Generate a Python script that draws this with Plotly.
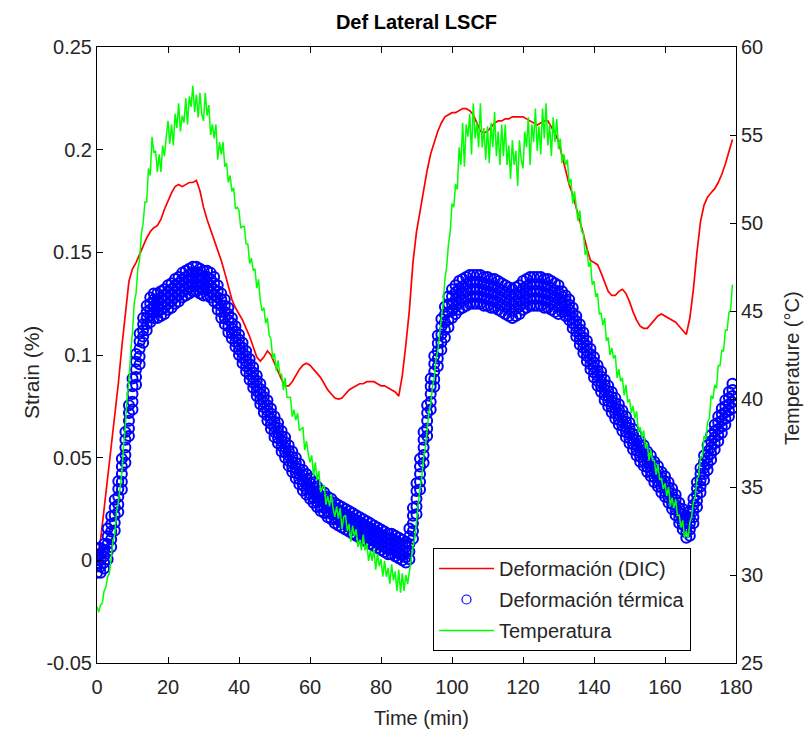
import plotly.graph_objects as go

# ---------------- data ----------------
time_min = list(range(180))          # minutes, 1-min grid for DIC and thermal strain

dic_strain = [
    0.000, 0.010, 0.025, 0.040, 0.055, 0.070, 0.086, 0.104, 0.120, 0.136,
    0.142, 0.145, 0.149, 0.153, 0.157, 0.160, 0.162, 0.163, 0.166, 0.171,
    0.175, 0.179, 0.182, 0.183, 0.182, 0.183, 0.184, 0.184, 0.185, 0.180,
    0.172, 0.166, 0.161, 0.157, 0.152, 0.146, 0.140, 0.133, 0.127, 0.123,
    0.120, 0.117, 0.113, 0.109, 0.104, 0.099, 0.097, 0.099, 0.102, 0.100,
    0.096, 0.092, 0.088, 0.085, 0.085, 0.087, 0.090, 0.093, 0.095, 0.096,
    0.095, 0.093, 0.091, 0.089, 0.086, 0.083, 0.081, 0.079, 0.0785, 0.079,
    0.081, 0.083, 0.084, 0.085, 0.086, 0.086, 0.087, 0.087, 0.087, 0.086,
    0.085, 0.085, 0.084, 0.083, 0.082, 0.080, 0.090, 0.105, 0.122, 0.145,
    0.160, 0.170, 0.181, 0.190, 0.198, 0.204, 0.209, 0.213, 0.216, 0.217,
    0.218, 0.218, 0.219, 0.220, 0.220, 0.219, 0.217, 0.213, 0.209, 0.208,
    0.209, 0.211, 0.213, 0.214, 0.214, 0.215, 0.215, 0.216, 0.216, 0.216,
    0.216, 0.215, 0.214, 0.213, 0.212, 0.213, 0.214, 0.214, 0.211, 0.208,
    0.204, 0.197, 0.189, 0.183, 0.178, 0.172, 0.166, 0.159, 0.152, 0.146,
    0.145, 0.144, 0.140, 0.135, 0.131, 0.129, 0.129, 0.131, 0.132, 0.130,
    0.126, 0.121, 0.117, 0.114, 0.113, 0.113, 0.115, 0.117, 0.119, 0.120,
    0.119, 0.118, 0.117, 0.116, 0.114, 0.112, 0.110, 0.118, 0.132, 0.150,
    0.165, 0.173, 0.177, 0.179, 0.181, 0.184, 0.188, 0.193, 0.199, 0.205,
]

# centre line of the blue band of circles
thermal_strain = [
    0.000, 0.000, 0.002, 0.008, 0.014, 0.022, 0.031, 0.042, 0.055, 0.068,
    0.081, 0.093, 0.103, 0.112, 0.118, 0.122, 0.124, 0.124, 0.125, 0.126,
    0.128, 0.129, 0.131, 0.132, 0.134, 0.135, 0.136, 0.137, 0.137, 0.136,
    0.135, 0.135, 0.134, 0.132, 0.128, 0.124, 0.121, 0.117, 0.113, 0.109,
    0.105, 0.101, 0.097, 0.093, 0.089, 0.085, 0.081, 0.077, 0.073, 0.069,
    0.065, 0.062, 0.058, 0.055, 0.051, 0.048, 0.045, 0.042, 0.039, 0.037,
    0.035, 0.033, 0.031, 0.029, 0.028, 0.026, 0.025, 0.023, 0.022, 0.021,
    0.020, 0.019, 0.018, 0.017, 0.016, 0.015, 0.014, 0.013, 0.012, 0.011,
    0.010, 0.009, 0.008, 0.008, 0.007, 0.006, 0.005, 0.004, 0.008, 0.018,
    0.030, 0.042, 0.055, 0.068, 0.081, 0.092, 0.102, 0.110, 0.116, 0.121,
    0.125, 0.127, 0.129, 0.130, 0.131, 0.132, 0.132, 0.132, 0.132, 0.131,
    0.131, 0.130, 0.130, 0.129, 0.128, 0.127, 0.126, 0.125, 0.126, 0.127,
    0.129, 0.130, 0.131, 0.131, 0.131, 0.131, 0.130, 0.130, 0.129, 0.128,
    0.127, 0.126, 0.124, 0.122, 0.118, 0.114, 0.110, 0.106, 0.102, 0.098,
    0.094, 0.090, 0.087, 0.083, 0.080, 0.077, 0.074, 0.071, 0.068, 0.065,
    0.062, 0.059, 0.056, 0.053, 0.051, 0.048, 0.046, 0.043, 0.041, 0.038,
    0.036, 0.033, 0.030, 0.027, 0.023, 0.020, 0.016, 0.018, 0.024, 0.032,
    0.039, 0.045, 0.050, 0.055, 0.060, 0.064, 0.068, 0.072, 0.076, 0.080,
]

# half-thickness of the scattered band of circles
thermal_spread = [
    0.006, 0.006, 0.006, 0.0075, 0.0075, 0.0075, 0.0075, 0.0075, 0.0075, 0.0075,
    0.0075, 0.0075, 0.0075, 0.006, 0.006, 0.006, 0.006, 0.006, 0.006, 0.006,
    0.006, 0.006, 0.006, 0.006, 0.006, 0.006, 0.006, 0.006, 0.006, 0.006,
    0.006, 0.006, 0.006, 0.006, 0.006, 0.006, 0.006, 0.006, 0.005, 0.005,
    0.005, 0.005, 0.005, 0.005, 0.005, 0.005, 0.005, 0.005, 0.005, 0.005,
    0.005, 0.005, 0.005, 0.005, 0.005, 0.005, 0.005, 0.005, 0.005, 0.005,
    0.005, 0.005, 0.005, 0.005, 0.005, 0.005, 0.005, 0.005, 0.005, 0.005,
    0.005, 0.005, 0.005, 0.005, 0.005, 0.005, 0.005, 0.005, 0.005, 0.005,
    0.005, 0.005, 0.005, 0.005, 0.005, 0.005, 0.005, 0.005, 0.0075, 0.0075,
    0.0075, 0.0075, 0.0075, 0.0075, 0.0075, 0.0075, 0.0075, 0.0075, 0.0075, 0.0075,
    0.007, 0.007, 0.007, 0.007, 0.007, 0.007, 0.007, 0.007, 0.007, 0.007,
    0.007, 0.007, 0.007, 0.007, 0.007, 0.007, 0.007, 0.007, 0.007, 0.007,
    0.007, 0.007, 0.007, 0.007, 0.007, 0.007, 0.007, 0.007, 0.007, 0.007,
    0.007, 0.005, 0.005, 0.005, 0.005, 0.005, 0.005, 0.005, 0.005, 0.005,
    0.005, 0.005, 0.005, 0.005, 0.005, 0.005, 0.005, 0.005, 0.005, 0.005,
    0.005, 0.005, 0.005, 0.005, 0.005, 0.005, 0.005, 0.005, 0.005, 0.005,
    0.005, 0.005, 0.005, 0.005, 0.005, 0.005, 0.005, 0.006, 0.006, 0.006,
    0.006, 0.006, 0.006, 0.006, 0.006, 0.006, 0.006, 0.006, 0.006, 0.006,
]

# temperature, sampled every 0.5 min (noisy thermocouple signal)
temp_time = [i * 0.5 for i in range(359)]
temperature = [
    28.2, 27.9, 28.3, 28.4, 29.1, 29.3, 29.9, 30.1, 31.0, 31.9, 32.3, 33.6, 34.1, 35.1, 35.8, 37.4, 38.5, 40.1, 41.0, 42.7,
    43.8, 45.5, 46.0, 47.4, 47.9, 49.4, 50.0, 51.2, 51.2, 53.1, 52.7, 54.9, 54.0, 54.1, 52.9, 53.9, 52.9, 54.4, 53.8, 54.9,
    55.8, 54.5, 55.6, 54.4, 56.2, 55.4, 56.8, 55.2, 56.1, 55.7, 57.1, 55.6, 57.2, 56.6, 57.8, 56.3, 57.3, 56.0, 57.4, 56.2,
    55.8, 57.4, 56.1, 56.7, 55.0, 55.6, 54.8, 55.6, 53.6, 54.6, 53.9, 54.6, 53.2, 53.4, 52.3, 52.7, 51.8, 52.0, 50.8, 50.9,
    50.7, 49.7, 49.8, 49.8, 48.8, 48.8, 47.7, 48.0, 47.3, 47.4, 46.3, 46.8, 45.6, 45.0, 45.2, 44.3, 44.6, 43.6, 43.4, 42.3,
    42.6, 41.6, 42.2, 41.4, 41.4, 40.5, 41.2, 40.1, 40.1, 40.1, 39.0, 39.4, 38.8, 39.2, 38.2, 38.3, 38.4, 37.1, 37.6, 36.9,
    36.4, 36.8, 35.6, 36.4, 35.4, 35.9, 34.7, 35.0, 35.1, 34.0, 34.5, 33.9, 34.6, 33.8, 33.3, 33.9, 33.2, 33.8, 32.6, 33.3,
    33.4, 32.5, 32.9, 31.9, 32.8, 32.2, 32.6, 31.6, 32.0, 31.4, 32.3, 31.4, 31.8, 30.8, 31.4, 30.8, 31.5, 30.3, 31.2, 30.5,
    30.9, 29.9, 30.8, 29.9, 30.4, 29.5, 30.6, 29.7, 30.2, 29.1, 30.3, 29.0, 30.1, 29.1, 30.0, 29.5, 30.2, 31.0, 31.6, 32.1,
    33.1, 33.8, 35.0, 35.6, 36.7, 37.2, 38.3, 39.3, 39.7, 40.7, 41.2, 42.3, 42.7, 43.9, 44.6, 45.4, 46.8, 47.5, 48.8, 49.5,
    51.1, 50.9, 52.2, 51.9, 54.3, 53.3, 55.7, 53.2, 55.6, 54.9, 56.2, 53.9, 56.8, 54.8, 55.7, 54.3, 56.8, 54.3, 55.4, 53.6,
    55.5, 53.4, 55.7, 54.3, 56.3, 53.8, 55.2, 53.3, 55.6, 53.8, 55.6, 53.3, 54.4, 52.5, 54.7, 53.3, 54.1, 52.1, 54.7, 53.6,
    53.1, 55.2, 54.3, 56.0, 53.3, 55.6, 54.6, 56.5, 54.1, 55.5, 53.9, 56.5, 54.8, 56.8, 54.4, 55.6, 53.8, 56.0, 54.6, 55.9,
    54.2, 54.8, 53.4, 53.9, 53.3, 53.6, 52.2, 52.5, 51.1, 51.8, 51.0, 50.1, 50.7, 49.5, 49.5, 48.2, 48.5, 47.5, 47.8, 46.5,
    46.7, 45.8, 46.0, 44.8, 44.9, 44.2, 44.6, 43.3, 43.5, 42.5, 42.9, 42.3, 42.5, 41.2, 41.7, 41.0, 41.2, 40.2, 40.8, 39.8,
    40.0, 39.2, 39.6, 38.9, 39.3, 38.1, 38.4, 37.8, 38.2, 37.2, 37.5, 36.5, 37.1, 36.5, 36.5, 35.7, 36.3, 35.4, 35.5, 34.9,
    35.2, 34.5, 35.0, 33.9, 34.4, 33.8, 34.3, 33.4, 33.4, 32.7, 33.1, 32.1, 32.5, 32.1, 33.0, 33.3, 34.2, 34.4, 35.5, 35.6,
    36.7, 36.7, 37.9, 37.7, 38.7, 38.9, 40.2, 40.0, 40.8, 40.6, 41.9, 41.9, 42.8, 42.7, 43.9, 43.9, 44.9, 45.1, 46.5,
]

time_ticks = [0, 20, 40, 60, 80, 100, 120, 140, 160, 180]
strain_ticks = [-0.05, 0, 0.05, 0.1, 0.15, 0.2, 0.25]
strain_tick_text = ["-0.05", "0", "0.05", "0.1", "0.15", "0.2", "0.25"]
temp_ticks = [25, 30, 35, 40, 45, 50, 55, 60]

# ---------------- figure ----------------
FONT = "Liberation Sans, Arial, Helvetica, sans-serif"
TXT = "#262626"

# circles spread across the read band (centre, half-way and edge on both sides)
band_x, band_y = [], []
for frac in (0.0, 0.5, -0.5, 1.0, -1.0):
    band_x += time_min
    band_y += [c + frac * s for c, s in zip(thermal_strain, thermal_spread)]

fig = go.Figure()
fig.add_trace(go.Scatter(
    x=time_min, y=dic_strain, mode="lines", name="Deformación (DIC)",
    line=dict(color="#ff0000", width=1.7), legendgroup="g1"))
fig.add_trace(go.Scatter(
    x=band_x, y=band_y, mode="markers", name="Deformación térmica",
    marker=dict(symbol="circle-open", size=10, color="#0000ff",
                line=dict(width=2.0, color="#0000ff")),
    legendgroup="g2", showlegend=False))
fig.add_trace(go.Scatter(   # legend entry only (thin circle as in the reference)
    x=[None], y=[None], mode="markers", name="Deformación térmica",
    marker=dict(symbol="circle-open", size=9, color="#0000ff",
                line=dict(width=1.2, color="#0000ff")), legendgroup="g2"))
fig.add_trace(go.Scatter(
    x=temp_time, y=temperature, mode="lines", name="Temperatura",
    line=dict(color="#00ff00", width=1.5), yaxis="y2", legendgroup="g3"))

axis_common = dict(showgrid=False, zeroline=False, showline=True,
                   linecolor="black", linewidth=1, ticks="inside",
                   ticklen=6, tickcolor="black",
                   tickfont=dict(family=FONT, size=20, color=TXT))

fig.update_layout(
    width=806, height=738,
    margin=dict(l=97, r=70, t=47, b=75),
    paper_bgcolor="white", plot_bgcolor="white",
    font=dict(family=FONT, color=TXT),
    title=dict(text="<b>Def Lateral LSCF</b>", x=0.5, xref="paper",
               y=1 - 22 / 738, yref="container", yanchor="middle",
               xanchor="center", font=dict(family=FONT, size=20, color="black")),
    xaxis=dict(range=[0, 180], tickvals=time_ticks, mirror="ticks",
               ticklabelstandoff=6, **axis_common),
    yaxis=dict(range=[-0.05, 0.25], tickvals=strain_ticks, ticktext=strain_tick_text,
               **axis_common),
    yaxis2=dict(range=[25, 60], tickvals=temp_ticks, overlaying="y", side="right",
                **axis_common),
    legend=dict(x=(433 - 97) / 639, y=(663 - 651) / 616, xanchor="left", yanchor="bottom",
                bgcolor="white", bordercolor="black", borderwidth=1,
                font=dict(family=FONT, size=20, color=TXT),
                itemwidth=55, tracegroupgap=2),
    showlegend=True,
    annotations=[
        dict(text="Time (min)", x=421, y=738 - 718, showarrow=False,
             font=dict(family=FONT, size=20, color=TXT)),
        dict(text="Strain (%)", x=31, y=738 - 373, textangle=-90, showarrow=False,
             font=dict(family=FONT, size=21, color=TXT)),
        dict(text="Temperature (°C)", x=792, y=738 - 368, textangle=-90, showarrow=False,
             font=dict(family=FONT, size=20, color=TXT)),
    ],
)
# annotation positions given in pixels -> convert to paper fractions
for a in fig.layout.annotations:
    a.xref = "paper"; a.yref = "paper"
    a.x = (a.x - 97) / 639
    a.y = (a.y - 75) / 616
    a.xanchor = "center"; a.yanchor = "middle"

fig.write_html("out.html")
